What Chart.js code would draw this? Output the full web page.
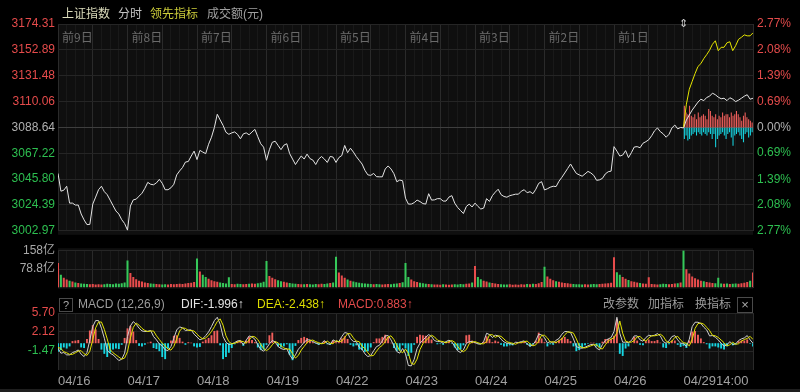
<!DOCTYPE html>
<html>
<head>
<meta charset="utf-8">
<script src="https://cdn.jsdelivr.net/npm/chart.js@4.4.1/dist/chart.umd.min.js"></script>
<style>
body { margin:0; background:#000; }
#wrap { position:relative; width:800px; height:392px; overflow:hidden; background:#000;
  font-family: Arial, "Liberation Sans", "Noto Sans CJK SC", sans-serif; }
canvas { position:absolute; left:0; }
.t { position:absolute; font-size:12px; line-height:16px; white-space:nowrap; }
.box { position:absolute; border:1px solid #4a4a4a; color:#a8a8a8; font-size:11px; text-align:center; }
</style>
</head>
<body>
<div id="wrap">
  <canvas id="main" width="800" height="242" style="top:0"></canvas>
  <canvas id="vol" width="800" height="58" style="top:240px"></canvas>
  <canvas id="macd" width="800" height="92" style="top:300px"></canvas>

  <span class="t" style="left:62px;top:6px;color:#dcdcbc">上证指数</span>
  <span class="t" style="left:118px;top:6px;color:#c4c4c4">分时</span>
  <span class="t" style="left:150px;top:6px;color:#cccc3a">领先指标</span>
  <span class="t" style="left:207px;top:6px;color:#a0a0a0">成交额(元)</span>
  <span class="t" style="left:679px;top:15px;color:#d0d0d0;font-size:11px">⇕</span>

  <div class="box" style="left:59px;top:298px;width:12px;height:12px;line-height:12px">?</div>
  <span class="t" style="left:78px;top:296px;color:#9c9c9c">MACD (12,26,9)</span>
  <span class="t" style="left:181px;top:296px;color:#e2e2e2">DIF:-1.996↑</span>
  <span class="t" style="left:257px;top:296px;color:#dede00">DEA:-2.438↑</span>
  <span class="t" style="left:338px;top:296px;color:#e24a4a">MACD:0.883↑</span>
  <span class="t" style="left:603px;top:296px;color:#9c9c9c">改参数</span>
  <span class="t" style="left:648px;top:296px;color:#9c9c9c">加指标</span>
  <span class="t" style="left:695px;top:296px;color:#9c9c9c">换指标</span>
  <div class="box" style="left:737px;top:297px;width:14px;height:14px;line-height:14px;font-size:13px">×</div>
  <div style="position:absolute;left:0;top:389px;width:800px;height:3px;background:#1e1e1e"></div>
</div>
<script>
Chart.defaults.font.family = 'Arial, "Liberation Sans", "Noto Sans CJK SC", sans-serif'
Chart.defaults.font.size = 12

// ---- data ----
const prevClose = 3088.64
const priceTicks = [3002.97, 3024.39, 3045.80, 3067.22, 3088.64, 3110.06, 3131.48, 3152.89, 3174.31]
const pctTicks = [-2.77, -2.08, -1.39, -0.69, 0, 0.69, 1.39, 2.08, 2.77]
const volTicks = [0, 78.8, 158]
const macdTicks = [-5.05, -1.47, 2.12, 5.70]
const dayTags = ['前9日', '前8日', '前7日', '前6日', '前5日', '前4日', '前3日', '前2日', '前1日']
const dates = ['04/16', '04/17', '04/18', '04/19', '04/22', '04/23', '04/24', '04/25', '04/26', '04/2914:00']

// index price, 24 samples per day, last day 25
const price = [
  3050.5, 3035.8, 3036.6, 3039.9, 3025.9, 3025.9, 3024.3, 3024.3, 3016.9, 3012.0, 3008.1, 3008.3, 3025.1, 3030.9, 3037.0, 3039.9, 3035.4, 3032.9, 3028.4, 3023.9, 3019.4, 3016.9, 3012.2, 3009.0,
  3003.5, 3023.5, 3028.6, 3029.2, 3031.7, 3034.1, 3038.2, 3043.1, 3041.5, 3041.1, 3042.7, 3045.6, 3042.3, 3037.0, 3037.0, 3038.6, 3041.5, 3049.3, 3052.6, 3055.4, 3059.9, 3060.4, 3064.9, 3069.0,
  3062.0, 3069.6, 3068.2, 3066.9, 3074.7, 3080.5, 3088.6, 3099.5, 3094.8, 3090.3, 3084.6, 3082.9, 3084.1, 3084.9, 3082.9, 3079.2, 3083.3, 3084.1, 3082.5, 3084.9, 3087.0, 3080.9, 3075.1, 3072.3,
  3061.4, 3070.2, 3076.3, 3077.2, 3073.7, 3070.2, 3073.9, 3075.1, 3066.9, 3062.4, 3057.9, 3061.6, 3065.0, 3062.4, 3066.5, 3062.8, 3061.6, 3057.9, 3062.4, 3064.5, 3062.4, 3059.6, 3064.6, 3064.0,
  3059.6, 3063.7, 3065.3, 3073.7, 3067.7, 3071.4, 3068.2, 3064.5, 3061.4, 3058.3, 3053.0, 3049.3, 3048.9, 3050.5, 3047.8, 3047.7, 3047.7, 3054.2, 3056.7, 3054.2, 3050.3, 3043.6, 3045.0, 3044.4,
  3030.0, 3025.1, 3025.1, 3026.3, 3028.4, 3027.2, 3025.5, 3025.1, 3033.7, 3028.4, 3028.6, 3029.6, 3029.6, 3027.6, 3027.6, 3030.9, 3032.1, 3025.9, 3022.3, 3019.8, 3017.3, 3023.1, 3025.1, 3022.7,
  3025.9, 3023.2, 3021.0, 3021.8, 3029.6, 3027.3, 3032.1, 3035.0, 3037.4, 3032.9, 3031.4, 3030.8, 3032.1, 3032.7, 3033.3, 3033.3, 3035.8, 3037.0, 3034.5, 3035.4, 3033.7, 3037.4, 3042.3, 3043.7,
  3036.8, 3037.8, 3039.1, 3039.9, 3039.6, 3044.0, 3047.3, 3050.9, 3054.6, 3058.3, 3054.2, 3050.5, 3049.3, 3048.2, 3050.1, 3052.2, 3050.9, 3048.9, 3044.8, 3045.2, 3046.4, 3050.1, 3051.9, 3052.4,
  3072.7, 3069.0, 3064.9, 3065.7, 3069.4, 3063.6, 3067.7, 3072.4, 3072.7, 3071.8, 3075.5, 3076.8, 3078.4, 3081.7, 3085.8, 3088.2, 3085.1, 3083.3, 3080.5, 3082.9, 3088.2, 3090.6, 3087.4, 3088.6,
  3088.2, 3094.8, 3098.9, 3103.0, 3106.3, 3109.6, 3112.0, 3110.8, 3113.4, 3114.5, 3117.0, 3115.7, 3113.7, 3112.4, 3112.8, 3110.8, 3113.2, 3112.0, 3110.0, 3111.2, 3112.8, 3114.5, 3115.7, 3112.0, 3112.8
]
// 领先指标 for today
const lead = [3089.1, 3107.9, 3120.2, 3126.8, 3133.3, 3139.1, 3141.5, 3145.6, 3148.9, 3152.6, 3157.5, 3160.4,
  3152.2, 3155.0, 3155.0, 3158.7, 3159.6, 3152.2, 3156.3, 3161.6, 3163.3, 3165.3, 3164.5, 3164.5, 3167.0]
// today's buy / sell strength bars (%)
const upBars = [0.58, 0.40, 0.35, 0.58, 0.31, 0.27, 0.35, 0.22, 0.40, 0.27, 0.31, 0.35, 0.31, 0.22, 0.49, 0.44, 0.31, 0.27, 0.35, 0.22,
  0.31, 0.27, 0.40, 0.31, 0.35, 0.35, 0.27, 0.40, 0.31, 0.35, 0.44, 0.35, 0.27, 0.18, 0.31, 0.40, 0.27, 0.22, 0.18, 0.13]
const downBars = [-0.31, -0.22, -0.35, -0.31, -0.22, -0.18, -0.13, -0.22, -0.13, -0.18, -0.22, -0.13, -0.18, -0.22, -0.13, -0.18, -0.31, -0.18, -0.53, -0.31,
  -0.22, -0.18, -0.13, -0.22, -0.31, -0.18, -0.13, -0.27, -0.49, -0.22, -0.18, -0.13, -0.22, -0.31, -0.40, -0.18, -0.13, -0.27, -0.22, -0.13]

// turnover, 亿
const volume = [
  104, 55, 42, 35, 30, 26, 22, 20, 18, 17, 16, 15, 16, 14, 15, 14, 15, 17, 16, 15, 18, 17, 19, 22,
  115, 62, 45, 36, 30, 26, 22, 20, 18, 17, 16, 15, 14, 15, 14, 16, 15, 16, 17, 16, 18, 20, 21, 24,
  123, 68, 55, 45, 38, 32, 28, 25, 22, 20, 18, 44, 16, 15, 17, 16, 15, 16, 17, 18, 17, 19, 21, 25,
  113, 50, 42, 36, 32, 28, 25, 22, 20, 18, 17, 16, 15, 15, 16, 15, 14, 16, 15, 17, 16, 18, 20, 22,
  131, 64, 52, 42, 35, 30, 26, 23, 21, 19, 18, 17, 16, 15, 16, 15, 14, 15, 16, 15, 17, 18, 20, 23,
  104, 45, 35, 28, 24, 21, 19, 17, 16, 15, 14, 14, 13, 15, 14, 13, 14, 15, 14, 16, 15, 17, 18, 22,
  92, 45, 36, 30, 26, 22, 20, 18, 16, 15, 14, 14, 15, 13, 14, 13, 15, 14, 16, 15, 17, 16, 19, 24,
  88, 48, 38, 32, 28, 25, 22, 20, 19, 17, 16, 15, 15, 14, 15, 14, 15, 16, 15, 16, 17, 18, 19, 21,
  128, 65, 55, 45, 38, 33, 28, 25, 22, 20, 18, 17, 44, 16, 15, 14, 15, 17, 16, 15, 16, 18, 19, 22,
  157, 78, 60, 48, 40, 35, 30, 27, 24, 22, 20, 19, 42, 18, 17, 18, 16, 17, 18, 17, 19, 21, 24, 30, 64
]

const dif = [
  -0.94, -1.88, -1.76, -2.2, -2.2, -1.76, -1.57, -1.26, -2.07, -2.51, -1.76, 0.63, 3.14, 4.27, 4.27, 2.83, 0.94, -1.38, -1.88, -2.2, -2.7, -3.27, -3.02, -1.88,
  1.26, 3.27, 4.08, 3.58, 2.83, 2.32, 2.2, 2.26, 2.39, 1.26, 0.63, -0.13, -0.5, -1.26, -1.38, -0.63, 0.94, 2.51, 3.08, 2.89, 2.39, 2.51, 2.51, 1.7,
  1.19, 0.63, 0.88, 1.44, 2.14, 3.14, 4.27, 4.9, 3.58, 1.26, 0.19, -0.25, -0.13, 0.13, 0.44, 0.5, -0.31, 0.57, 1.38, 1.19, 0.75, -0.31, -1.13, -1.51,
  -0.94, -0.13, 0.5, 0.25, -0.63, -1.0, -1.19, -1.0, -2.2, -3.02, -2.2, -1.13, -0.5, 0.19, 0.63, 0.63, 0.31, 0.06, -0.19, 0, 0.5, -0.06, -0.25, 0.63,
  0.31, 0.31, 1.26, 2.01, 1.88, 0.88, 0.31, 0.31, -0.75, -1.13, -2.01, -2.51, -2.32, -1.44, -0.63, -0.38, 0.44, 1.38, 1.44, 0.63, -0.5, -1.57, -1.88, -1.0,
  -2.01, -4.2, -4.27, -3.02, -1.0, 0, 0.57, 1.13, 1.63, 1.26, 0.5, 0.31, 0.31, 0, 0.31, 0.57, 0.25, -0.63, -1.44, -1.76, -1.26, -0.06, 0.31, 0.31,
  0.13, -0.13, -0.19, 0.31, 1.88, 1.63, 1.07, 1.51, 1.38, 0.75, 0.25, 0, 0, -0.25, 0.19, 0.13, 0.31, 0.44, -0.13, -0.57, -0.31, 0.5, 1.7, 1.57,
  1.0, 0.06, 0.31, 0, 0.57, 0.88, 1.7, 2.2, 2.2, 2.01, 0.82, -0.63, -0.88, -0.94, -0.75, -0.5, -0.25, -0.19, -0.94, -1.26, -0.25, 0.5, 0.82, 1.07,
  2.2, 4.9, 1.88, 0.19, 0.19, 0.13, 0.5, 1.38, 1.38, 0.63, 0.38, 1.07, 1.51, 1.38, 1.51, 1.82, 1.38, 0.31, 0, 0.44, 1.26, 1.44, 0.63, 0,
  0, -0.63, 0.75, 3.14, 3.96, 3.96, 3.71, 3.02, 2.51, 1.38, 1.44, 1.13, 0.63, 0, -0.57, -0.31, 0.31, -0.25, -0.13, 0.5, 0.82, 1.0, 1.44, 0.63, 0
]
const dea = [
  -0.8, -1.0, -1.6, -1.8, -2.1, -2.1, -1.8, -1.5, -1.4, -2.0, -2.3, -1.5, 0.7, 2.9, 4.0, 4.0, 2.6, 0.8, -1.2, -1.8, -2.2, -2.6, -3.0, -2.8,
  -1.6, 1.0, 3.0, 3.8, 3.4, 2.8, 2.4, 2.2, 2.3, 2.3, 1.4, 0.7, 0.0, -0.5, -1.1, -1.3, -0.6, 0.8, 2.3, 2.9, 2.8, 2.4, 2.4, 2.3,
  1.7, 1.2, 0.8, 1.0, 1.5, 2.2, 3.1, 4.1, 4.6, 3.4, 1.4, 0.3, -0.1, 0.0, 0.2, 0.4, 0.3, 0.0, 0.6, 1.3, 1.2, 0.7, -0.2, -1.0,
  -1.4, -1.0, -0.3, 0.3, 0.1, -0.5, -0.9, -1.1, -1.1, -2.0, -2.8, -2.3, -1.3, -0.6, 0.1, 0.5, 0.6, 0.3, 0.1, -0.1, 0.0, 0.4, 0.0, -0.1,
  0.5, 0.3, 0.4, 1.1, 1.8, 1.8, 1.0, 0.4, 0.3, -0.6, -1.0, -1.8, -2.4, -2.3, -1.5, -0.8, -0.4, 0.3, 1.2, 1.4, 0.7, -0.4, -1.4, -1.8,
  -1.1, -1.9, -3.8, -4.0, -3.0, -1.2, -0.1, 0.5, 1.0, 1.5, 1.2, 0.6, 0.4, 0.3, 0.1, 0.3, 0.5, 0.2, -0.6, -1.3, -1.6, -1.2, -0.1, 0.2,
  0.3, 0.1, -0.1, -0.1, 0.3, 1.6, 1.6, 1.1, 1.4, 1.3, 0.8, 0.3, 0.1, 0.0, -0.2, 0.1, 0.1, 0.3, 0.4, -0.1, -0.5, -0.3, 0.4, 1.5,
  1.5, 1.0, 0.2, 0.3, 0.1, 0.5, 0.8, 1.6, 2.1, 2.1, 1.9, 0.8, -0.5, -0.8, -0.9, -0.7, -0.5, -0.3, -0.3, -0.9, -1.1, -0.3, 0.4, 0.8,
  1.0, 2.0, 4.2, 1.9, 0.4, 0.2, 0.2, 0.5, 1.2, 1.3, 0.7, 0.4, 1.0, 1.4, 1.4, 1.5, 1.7, 1.3, 0.4, 0.1, 0.4, 1.1, 1.3, 0.6,
  0.1, 0.0, -0.5, 0.7, 2.8, 3.7, 3.8, 3.6, 3.0, 2.4, 1.5, 1.4, 1.1, 0.6, 0.1, -0.5, -0.3, 0.2, -0.2, -0.1, 0.4, 0.7, 0.9, 1.3, 0.7
]
const hist = [
  -1.6, -1.3, -0.8, -1.0, -0.6, 0.4, 0.5, 0.6, -0.8, -0.9, 0.8, 2.4, 3.4, 2.6, 0.8, -1.2, -2.0, -2.6, -1.8, -1.2, -1.0, -1.1, -0.3, 1.0,
  2.8, 3.3, 2.2, 0.6, -0.5, -0.6, -0.3, 0.1, 0.3, -0.9, -1.1, -1.5, -2.6, -3.0, -1.0, 0.5, 1.4, 1.5, 1.0, 0.3, -0.3, 0.2, 0.1, -0.6,
  -0.8, -0.7, 0.3, 0.7, 1.0, 1.5, 2.3, 2.4, -0.4, -3.0, -2.6, -1.8, -0.9, -0.2, 0.4, 0.5, -0.5, 0.5, 1.2, 0.6, 0.2, -0.8, -1.3, -1.2,
  -0.3, 1.5, 2.0, 0.4, -0.6, -0.8, -0.6, -0.2, -2.2, -3.2, -0.5, 0.6, 1.0, 1.2, 1.0, 0.6, 0.2, -0.1, -0.3, -0.1, 0.4, -0.2, -0.3, 0.5,
  0.2, 0.2, 0.9, 1.3, 0.8, -0.3, -0.6, -0.4, -1.2, -1.3, -1.6, -1.5, -0.8, 0.2, 0.9, 0.9, 1.2, 1.6, 1.2, 0.1, -0.9, -1.5, -1.4, -0.4,
  -1.0, -2.4, -1.8, -0.3, 1.2, 1.6, 1.5, 1.4, 1.3, 0.7, 0.0, -0.2, -0.1, -0.3, 0.1, 0.3, -0.1, -0.8, -1.3, -1.2, -0.4, 1.5, 1.6, 0.5,
  0.2, -0.1, -0.1, 0.3, 1.3, 0.8, 0.2, 0.5, 0.3, -0.3, -0.6, -0.6, -0.4, -0.4, 0.1, 0.1, 0.2, 0.3, -0.3, -0.6, -0.2, 0.5, 2.0, 0.9,
  0.2, -0.6, -0.2, -0.3, 0.3, 0.5, 1.0, 1.2, 0.8, 0.4, -0.6, -1.5, -1.3, -0.9, -0.4, -0.1, 0.1, 0.1, -0.6, -0.8, 0.3, 0.8, 0.8, 0.8,
  1.4, 4.6, -2.0, -2.4, -1.0, -0.6, 0.0, 1.2, 0.5, -0.3, -0.4, 0.4, 0.7, 0.4, 0.4, 0.6, 0.1, -0.8, -0.9, -0.2, 0.5, 0.5, -0.3, -0.7,
  -0.5, -0.9, 0.5, 2.2, 2.3, 1.6, 0.9, 0.2, -0.2, -1.0, -0.6, -0.6, -0.8, -1.0, -1.2, -0.6, 0.1, -0.4, -0.2, 0.4, 0.5, 0.5, 0.7, -0.1, -0.6
]

// ---- styling helpers ----
const UP = '#e54b4b', DOWN = '#2dbf50', FLAT = '#b0b0b0'
const BAR_UP = '#f25f5c', BAR_DN = '#17d8e4'
const signColor = d => d > 0.001 ? UP : (d < -0.001 ? DOWN : FLAT)
const perDay = 24

function timeAxis(withLabels) {
  return {
    type: 'linear', min: 0, max: 240, offset: false,
    afterBuildTicks: a => { a.ticks = []; for (let v = 0; v <= 240; v += 3) a.ticks.push({ value: v }) },
    afterFit: a => { a.height = withLabels ? 22 : 0 },
    grid: { color: c => c.tick.value % 12 === 0 ? '#2a2a2a' : '#191919', drawTicks: false, offset: false },
    border: { display: false },
    ticks: withLabels ? {
      autoSkip: false, maxRotation: 0, minRotation: 0, align: 'start', padding: 4,
      color: '#a0a0a0', font: { size: 13 },
      callback: v => (v % perDay === 0 && v / perDay < dates.length) ? dates[v / perDay] : ''
    } : { display: false }
  }
}

const plotBg = {
  id: 'plotBg',
  beforeDraw(chart, args, opts) {
    const a = chart.chartArea, c = chart.ctx
    c.save()
    c.fillStyle = '#0f0f0f'
    c.fillRect(a.left, a.top - (opts.up || 0), a.right - a.left, a.bottom - a.top + (opts.up || 0) + (opts.down || 0))
    c.restore()
  }
}

const dayTagPlugin = {
  id: 'dayTags',
  afterDatasetsDraw(chart) {
    const c = chart.ctx, x = chart.scales.x
    c.save()
    c.fillStyle = '#6a6a6a'
    c.font = '12px "Noto Sans CJK SC", sans-serif'
    c.textBaseline = 'middle'
    dayTags.forEach((t, d) => c.fillText(t, x.getPixelForValue(d * perDay) + 4, chart.chartArea.top + 13))
    c.restore()
  }
}

const common = {
  responsive: false, animation: false, devicePixelRatio: 1,
  elements: { point: { radius: 0 }, line: { tension: 0 } },
}

// ---- main price chart ----
new Chart(document.getElementById('main'), {
  type: 'line',
  data: {
    datasets: [
      { data: lead.map((v, i) => ({ x: 216 + i, y: v })), borderColor: '#e6e600', borderWidth: 1, yAxisID: 'y' },
      { data: price.map((v, i) => ({ x: i, y: v })), borderColor: '#e4e4e4', borderWidth: 1, yAxisID: 'y' },
      { type: 'bar', data: upBars.map((v, i) => ({ x: 216.3 + i * 0.6, y: v })), backgroundColor: BAR_UP,
        yAxisID: 'pct', grouped: false, barPercentage: 0.6, categoryPercentage: 1 },
      { type: 'bar', data: downBars.map((v, i) => ({ x: 216.3 + i * 0.6, y: v })), backgroundColor: BAR_DN,
        yAxisID: 'pct', grouped: false, barPercentage: 0.6, categoryPercentage: 1 }
    ]
  },
  options: {
    ...common,
    layout: { padding: { top: 24, bottom: 9, left: 0, right: 0 } },
    plugins: { legend: { display: false }, tooltip: { enabled: false }, plotBg: { down: 4 } },
    scales: {
      x: timeAxis(false),
      y: {
        position: 'left', min: priceTicks[0], max: priceTicks[priceTicks.length - 1],
        afterBuildTicks: a => { a.ticks = priceTicks.map(v => ({ value: v })) },
        afterFit: a => { a.width = 58 },
        grid: { color: c => Math.abs(c.tick.value - prevClose) < 0.01 ? '#3e3e3e' : '#252525', drawTicks: false },
        border: { display: false },
        ticks: { padding: 3, color: c => signColor(c.tick.value - prevClose), callback: v => v.toFixed(2) }
      },
      pct: {
        position: 'right', min: pctTicks[0], max: pctTicks[pctTicks.length - 1],
        afterBuildTicks: a => { a.ticks = pctTicks.map(v => ({ value: v })) },
        afterFit: a => { a.width = 47 },
        grid: { display: false, drawTicks: false },
        border: { display: false },
        ticks: { padding: 4, color: c => signColor(c.tick.value), callback: v => Math.abs(v).toFixed(2) + '%' }
      }
    }
  },
  plugins: [plotBg, dayTagPlugin]
})

// ---- turnover ----
new Chart(document.getElementById('vol'), {
  type: 'bar',
  data: {
    datasets: [{
      data: volume.map((v, i) => ({ x: i, y: v })),
      backgroundColor: volume.map((v, i) => i > 0 && price[i] < price[i - 1] ? '#36c95a' : '#e84c4c'),
      barPercentage: 0.7, categoryPercentage: 1
    }]
  },
  options: {
    ...common,
    layout: { padding: { top: 6.5, bottom: 3.5, left: 0, right: 47 } },
    plugins: { legend: { display: false }, tooltip: { enabled: false }, plotBg: { up: 2, down: 1 } },
    scales: {
      x: timeAxis(false),
      y: {
        min: volTicks[0], max: volTicks[volTicks.length - 1],
        afterBuildTicks: a => { a.ticks = volTicks.map(v => ({ value: v })) },
        afterFit: a => { a.width = 58 },
        grid: { color: c => c.tick.value === 0 ? 'rgba(0,0,0,0)' : '#262626', drawTicks: false },
        border: { display: false },
        ticks: { padding: 3, color: '#a8a8a8', callback: v => v === 0 ? '' : v + '亿' }
      }
    }
  },
  plugins: [plotBg]
})

// ---- MACD ----
new Chart(document.getElementById('macd'), {
  type: 'bar',
  data: {
    datasets: [
      { type: 'line', data: dea.map((v, i) => ({ x: i, y: v })), borderColor: '#e2e200', borderWidth: 1 },
      { type: 'line', data: dif.map((v, i) => ({ x: i, y: v })), borderColor: '#cfcfcf', borderWidth: 1 },
      { data: hist.map((v, i) => ({ x: i, y: v })), backgroundColor: hist.map(v => v >= 0 ? BAR_UP : BAR_DN),
        barPercentage: 0.65, categoryPercentage: 1 }
    ]
  },
  options: {
    ...common,
    layout: { padding: { top: 13, bottom: 0, left: 0, right: 47 } },
    plugins: { legend: { display: false }, tooltip: { enabled: false }, plotBg: {} },
    scales: {
      x: timeAxis(true),
      y: {
        min: macdTicks[0], max: macdTicks[macdTicks.length - 1],
        afterBuildTicks: a => { a.ticks = macdTicks.map(v => ({ value: v })) },
        afterFit: a => { a.width = 58 },
        grid: { color: c => c.tick.value === macdTicks[0] ? 'rgba(0,0,0,0)' : '#262626', drawTicks: false },
        border: { display: false },
        ticks: { padding: 3, color: c => signColor(c.tick.value),
          callback: v => v === macdTicks[0] ? '' : v.toFixed(2) }
      }
    }
  },
  plugins: [plotBg]
})
</script>
</body>
</html>
